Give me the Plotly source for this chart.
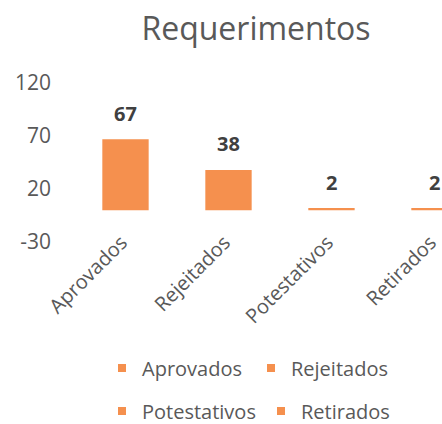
import plotly.graph_objects as go

categories = ["Aprovados", "Rejeitados", "Potestativos", "Retirados"]
values = [67, 38, 2, 2]
y_ticks = [-30, 20, 70, 120]

bar_color = "#F5904E"
text_color = "#595959"
label_color = "#404040"
font_family = "Open Sans"

W, H = 442, 424

fig = go.Figure()

for cat, val in zip(categories, values):
    fig.add_trace(go.Bar(
        x=[cat], y=[val], name=cat,
        marker=dict(color=bar_color, line=dict(width=0)),
        showlegend=False,
    ))

legend_map = {"Aprovados": "legend", "Rejeitados": "legend",
              "Potestativos": "legend2", "Retirados": "legend2"}
for cat in categories:
    fig.add_trace(go.Scatter(
        x=[None], y=[None], mode="markers", name=cat,
        marker=dict(symbol="square", size=8, color=bar_color),
        legend=legend_map[cat], showlegend=True,
    ))

for cat, val in zip(categories, values):
    fig.add_annotation(
        x=cat, y=val, text=f"<b>{val}</b>", showarrow=False,
        yanchor="middle", yshift=26,
        font=dict(family=font_family, size=20, color=label_color),
    )

fig.update_layout(
    width=W, height=H,
    margin=dict(l=74, r=0, t=83, b=182, autoexpand=False),
    paper_bgcolor="white", plot_bgcolor="white",
    barmode="overlay", bargap=0.55,
    font=dict(family=font_family, color=text_color),
    title=dict(text="Requerimentos", x=256/W, xanchor="center",
               y=1 - 29/H, yanchor="middle",
               font=dict(family=font_family, size=32, color=text_color)),
    xaxis=dict(
        categoryorder="array", categoryarray=categories,
        range=[-0.5, 3.073], tickangle=-45,
        showgrid=False, showline=False, zeroline=False, ticks="",
        ticklabelstandoff=-16, ticklabelshift=-4,
        tickfont=dict(family=font_family, size=20, color=text_color),
    ),
    yaxis=dict(
        range=[-30, 120], tickvals=y_ticks,
        ticktext=[str(v) for v in y_ticks],
        showgrid=False, showline=False, zeroline=False, ticks="",
        ticklabelstandoff=22,
        tickfont=dict(family=font_family, size=21, color=text_color),
    ),
    legend=dict(
        orientation="h", xref="container", yref="container",
        x=102/W, xanchor="left", y=1 - 368/H, yanchor="middle",
        entrywidth=104, entrywidthmode="pixels",
        font=dict(family=font_family, size=20, color=text_color),
        bgcolor="rgba(0,0,0,0)",
    ),
    legend2=dict(
        orientation="h", xref="container", yref="container",
        x=102/W, xanchor="left", y=1 - 411/H, yanchor="middle",
        entrywidth=114, entrywidthmode="pixels",
        font=dict(family=font_family, size=20, color=text_color),
        bgcolor="rgba(0,0,0,0)",
    ),
)

fig.write_html(
    "out.html",
    config={"displayModeBar": False},
    post_script="document.body.style.margin='0';document.body.style.overflow='hidden';",
)
